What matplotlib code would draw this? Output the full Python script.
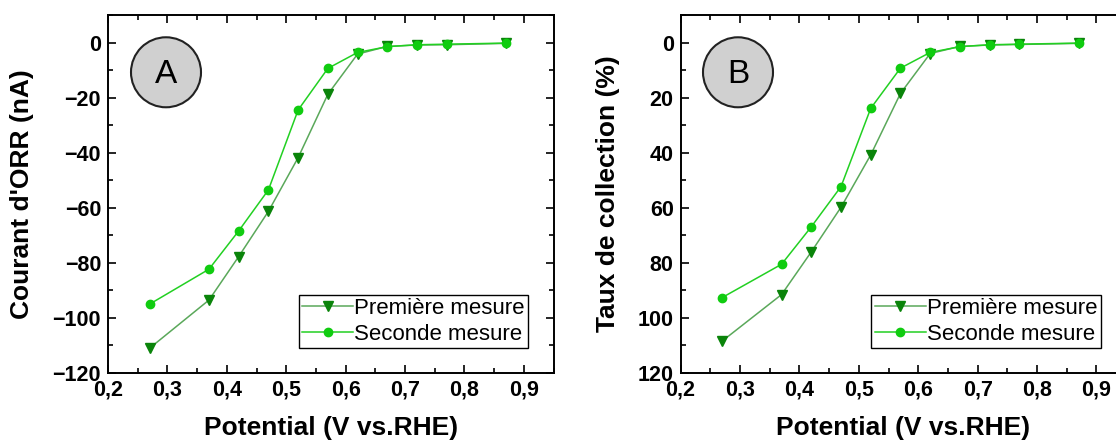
import matplotlib
matplotlib.use("Agg")
import matplotlib.pyplot as plt
from matplotlib.ticker import MultipleLocator, FuncFormatter
from matplotlib.patches import Ellipse

plt.rcParams['font.family'] = ['Liberation Sans', 'DejaVu Sans']

potential = [0.27, 0.37, 0.42, 0.47, 0.52, 0.57, 0.62, 0.67, 0.72, 0.77, 0.87]
courant_premiere = [-111.0, -93.5, -77.7, -61.3, -41.8, -18.8, -4.2, -1.4, -0.9, -0.8, -0.3]
courant_seconde = [-95.0, -82.3, -68.4, -53.5, -24.5, -9.4, -3.6, -1.5, -0.8, -0.6, -0.2]
taux_premiere = [108.4, 91.5, 76.0, 59.8, 40.8, 18.5, 4.0, 1.4, 0.9, 0.7, 0.3]
taux_seconde = [92.6, 80.5, 66.9, 52.3, 23.9, 9.3, 3.6, 1.5, 0.8, 0.6, 0.2]
labels = ["Première mesure", "Seconde mesure"]
xlabel = "Potential (V vs.RHE)"
ylabel_a = "Courant d'ORR (nA)"
ylabel_b = "Taux de collection (%)"

W, H = 1116, 441
fig = plt.figure(figsize=(W / 100, H / 100), dpi=100)

ax_w = (553.6 - 108) / W
ax_h = (373 - 15) / H
ax_b = (H - 373) / H
axA = fig.add_axes([108 / W, ax_b, ax_w, ax_h])
axB = fig.add_axes([680.6 / W, ax_b, ax_w, ax_h])

c1_line = '#5aa85a'
c1_mark = '#0a840a'
c2_line = '#22d022'
c2_mark = '#10cc10'

comma = FuncFormatter(lambda v, p: f"{v:.1f}".replace('.', ','))

def style(ax, ylabel, letter, lx):
    ax.set_xlim(0.2, 0.95)
    ax.xaxis.set_major_locator(MultipleLocator(0.1))
    ax.xaxis.set_minor_locator(MultipleLocator(0.05))
    ax.xaxis.set_major_formatter(comma)
    ax.yaxis.set_major_locator(MultipleLocator(20))
    ax.yaxis.set_minor_locator(MultipleLocator(10))
    ax.tick_params(which='both', direction='in', top=True, right=True, width=1.2)
    ax.tick_params(which='major', length=6, labelsize=15.5, pad=5)
    ax.tick_params(which='minor', length=3.5)
    for lab in ax.get_xticklabels() + ax.get_yticklabels():
        lab.set_fontweight('bold')
    for s in ax.spines.values():
        s.set_linewidth(1.4)
    ax.set_xlabel(xlabel, fontsize=19, fontweight='bold', labelpad=11)
    ax.set_ylabel(ylabel, fontsize=19, fontweight='bold', labelpad=13)
    leg = ax.legend(loc='lower right', bbox_to_anchor=(0.943, 0.07), fontsize=16,
                    frameon=True, fancybox=False, edgecolor='black', framealpha=1,
                    handlelength=2.3, handletextpad=0.05, borderpad=0.15,
                    labelspacing=0.2, borderaxespad=0)
    leg.get_frame().set_linewidth(1.0)
    trans = ax.transAxes
    ell = Ellipse((lx, 0.84), width=70 / (ax_w * W), height=70 / (ax_h * H),
                  transform=trans, facecolor='#d0d0d0', edgecolor='#222222', lw=1.5, zorder=5)
    ax.add_patch(ell)
    ax.text(lx, 0.835, letter, transform=trans, ha='center', va='center',
            fontsize=24, zorder=6)

axA.plot(potential, courant_premiere, color=c1_line, lw=1.1, marker='v', markersize=7,
         markerfacecolor=c1_mark, markeredgecolor=c1_mark, label=labels[0])
axA.plot(potential, courant_seconde, color=c2_line, lw=1.1, marker='o', markersize=6,
         markerfacecolor=c2_mark, markeredgecolor=c2_mark, label=labels[1])
axA.set_ylim(-120, 10)
style(axA, ylabel_a, 'A', (166 - 108) / (ax_w * W))

axB.plot(potential, taux_premiere, color=c1_line, lw=1.1, marker='v', markersize=7,
         markerfacecolor=c1_mark, markeredgecolor=c1_mark, label=labels[0])
axB.plot(potential, taux_seconde, color=c2_line, lw=1.1, marker='o', markersize=6,
         markerfacecolor=c2_mark, markeredgecolor=c2_mark, label=labels[1])
axB.set_ylim(120, -10)
style(axB, ylabel_b, 'B', (738 - 680.6) / (ax_w * W))

fig.savefig('out.png', dpi=100)
